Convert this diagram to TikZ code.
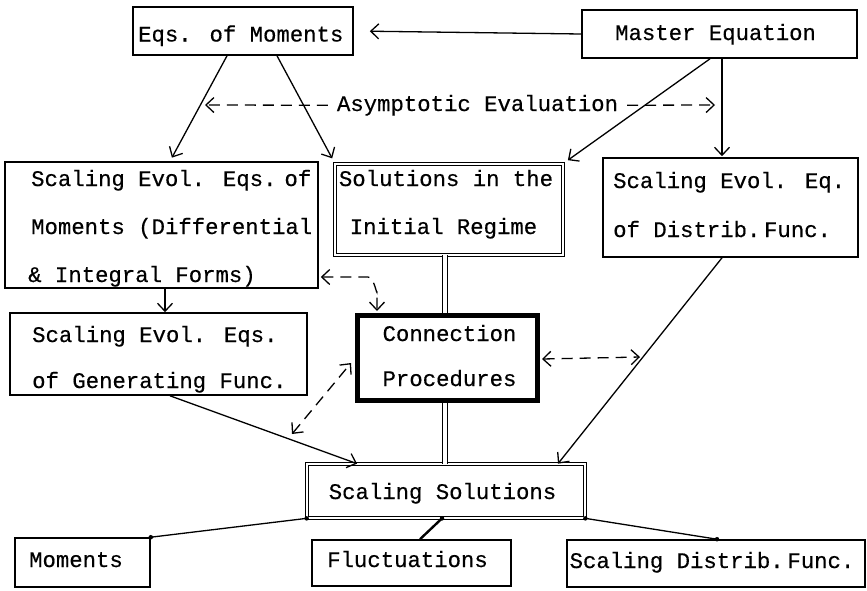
\documentclass[tikz,border=0pt]{standalone}
\usepackage{fontspec}
\newfontfamily\tw[FakeBold=0.4]{Liberation Mono}
\usetikzlibrary{arrows.meta}
\begin{document}
\begin{tikzpicture}[x=1pt,y=-1pt,
  box/.style={draw,line width=1.6pt,inner sep=0pt},
  dbox/.style={draw,double,double distance=2.5pt,line width=1pt,inner sep=0pt},
  tbox/.style={draw,line width=5pt,inner sep=0pt},
  txt/.style={font=\tw\fontsize{22.3}{26}\selectfont,inner sep=0pt},
  arr/.style={line width=1.3pt,-{Straight Barb[length=8pt,width=15pt,line width=1.3pt]}},
  darr/.style={line width=1.3pt,dash pattern=on 11pt off 7pt,{Straight Barb[length=8pt,width=15pt,line width=1.3pt]}-{Straight Barb[length=8pt,width=15pt,line width=1.3pt]}},
  sarr/.style={line width=1.3pt,dash pattern=on 11pt off 7pt,-{Straight Barb[length=8pt,width=15pt,line width=1.3pt]}},
  dline/.style={draw,double,double distance=4pt,line width=1pt},
  dot/.style={circle,fill,inner sep=0pt,minimum size=4.5pt}
]
\useasboundingbox (0,0) rectangle (867,590);

% boxes
\node[box,minimum width=220pt,minimum height=48pt] (eqm) at (243,31) {};
\node[box,minimum width=275pt,minimum height=48pt] (master) at (719.5,34) {};
\node[box,minimum width=313pt,minimum height=126pt] (sem) at (161.5,225) {};
\node[dbox,minimum width=227.7pt,minimum height=90.7pt] (sir) at (449,209.5) {};
\node[box,minimum width=255pt,minimum height=99pt] (sed) at (730.5,207.5) {};
\node[box,minimum width=297pt,minimum height=82pt] (seg) at (158.5,354) {};
\node[tbox,minimum width=180pt,minimum height=85pt] (conn) at (447.5,358) {};
\node[dbox,minimum width=277.7pt,minimum height=53.7pt] (ss) at (446,491) {};
\node[box,minimum width=135pt,minimum height=49pt] (mom) at (82.5,562.5) {};
\node[box,minimum width=199pt,minimum height=46pt] (fluc) at (411.5,563) {};
\node[box,minimum width=298pt,minimum height=47pt] (sdf) at (716,563.5) {};

% texts
\node[txt,anchor=base west] (t1) at (138,41.5) {Eqs. of Moments};
\node[txt,anchor=base west] (t2) at (615,40) {Master Equation};
\node[txt,anchor=base,inner xsep=9pt] (asym) at (477.5,111) {Asymptotic Evaluation};
\node[txt,anchor=base west] (t3) at (31,186) {Scaling Evol. Eqs.\hspace{8pt}of};
\node[txt,anchor=base west] (t4) at (31,234) {Moments (Differential};
\node[txt,anchor=base west] (t5) at (28,282) {\& Integral Forms)};
\node[txt,anchor=base] (t6) at (446,186) {Solutions in the};
\node[txt,anchor=base] (t7) at (443.5,234) {Initial Regime};
\node[txt,anchor=base west] (t8) at (613,188) {Scaling Evol. Eq.};
\node[txt,anchor=base west] (t9) at (613,237) {of Distrib.\,Func.};
\node[txt,anchor=base west] (t10) at (32,342) {Scaling Evol. Eqs.};
\node[txt,anchor=base west] (t11) at (32,388) {of Generating Func.};
\node[txt,anchor=base] (t12) at (449.5,341) {Connection};
\node[txt,anchor=base] (t13) at (449.5,386) {Procedures};
\node[txt,anchor=base] (t14) at (442.5,499) {Scaling Solutions};
\node[txt,anchor=base] (t15) at (76,567) {Moments};
\node[txt,anchor=base] (t16) at (407.5,567) {Fluctuations};
\node[txt,anchor=base] (t17) at (712,568) {Scaling Distrib.\,Func.};

% free ends
\coordinate (al) at (205,105);
\coordinate (ar) at (715,105);
\coordinate (cr) at (640,357);
\coordinate (cdl) at (292,434);

% solid arrows
\draw[arr,shorten >=16pt] (master.west) -- (eqm.east);
\draw[arr,shorten >=4pt] ([xshift=-16pt]eqm.south) -- ([xshift=8.5pt]sem.north);
\draw[arr,shorten >=6pt] ([xshift=34pt]eqm.south) -- ([xshift=-114pt]sir.north);
\draw[arr,shorten >=6pt] ([xshift=-9.5pt]master.south) -- ([xshift=114pt]sir.north);
\draw[arr,shorten >=1pt] ([xshift=2.5pt]master.south) -- ([xshift=-8.5pt]sed.north);
\draw[arr] ([xshift=3.5pt]sem.south) -- ([xshift=6.5pt]seg.north);
\draw[arr] ([xshift=11.5pt]seg.south) -- ([xshift=-89pt]ss.north);
\draw[arr] ([xshift=-8.5pt]sed.south) -- ([xshift=112pt]ss.north);

% dashed arrows
\draw[sarr] (asym.west) -- (al);
\draw[sarr] (asym.east) -- (ar);
\draw[darr] ([yshift=-52pt,xshift=2pt]sem.east) -- (368,277) to[out=0,in=-90] (377,291) -- ([xshift=-70.5pt,yshift=2pt]conn.north);
\draw[darr] ([xshift=2pt,yshift=-1pt]conn.east) -- (cr);
\draw[darr] (cdl) -- ([xshift=-4pt,yshift=-5pt]conn.west);

% double lines
\draw[dline] ([xshift=-4pt]sir.south) -- ([xshift=-2.5pt]conn.north);
\draw[dline] ([xshift=-2.5pt]conn.south) -- ([xshift=-1pt]ss.north);

% bottom connectors
\draw[line width=1.3pt] (ss.south west) -- (mom.north east);
\draw[line width=2.4pt] ([xshift=-4pt]ss.south) -- ([xshift=8.5pt]fluc.north);
\draw[line width=1.3pt] (ss.south east) -- ([xshift=1pt]sdf.north);
\node[dot] (d1) at (ss.south west) {};
\node[dot] (d2) at (mom.north east) {};
\node[dot] (d3) at ([xshift=-4pt]ss.south) {};
\node[dot] (d4) at (ss.south east) {};
\node[dot] (d5) at ([xshift=1pt]sdf.north) {};
\end{tikzpicture}
\end{document}
